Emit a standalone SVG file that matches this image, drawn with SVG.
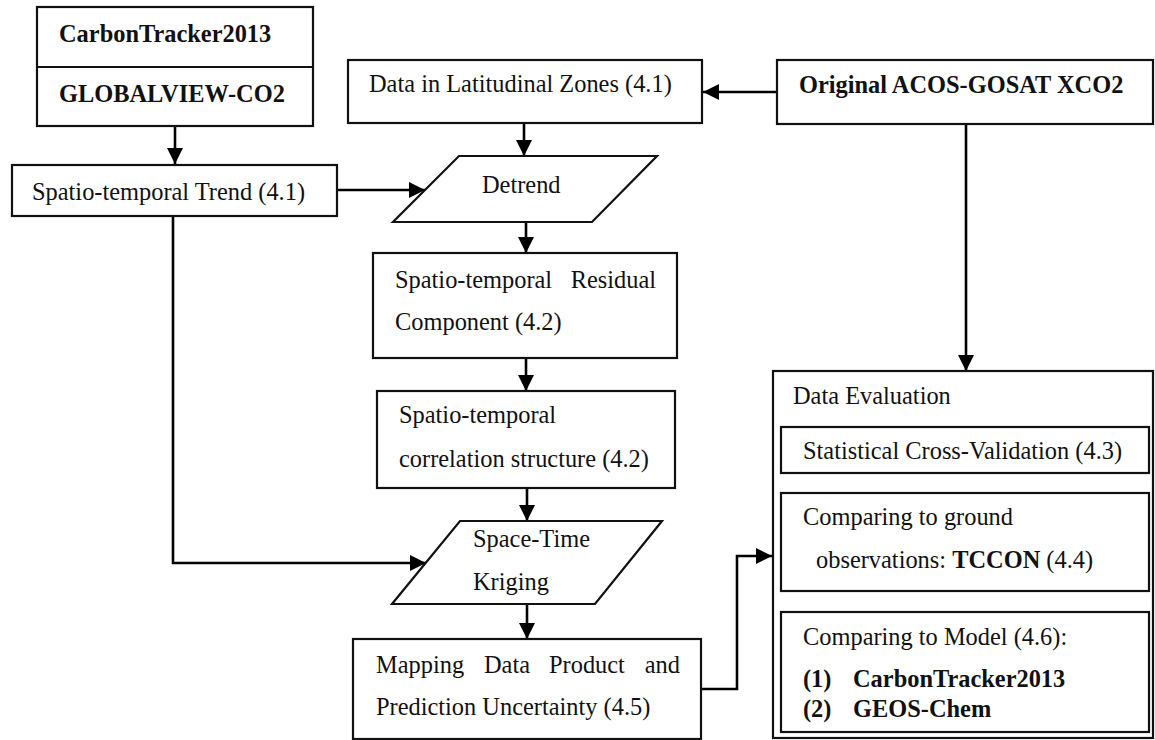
<svg xmlns="http://www.w3.org/2000/svg" width="1155" height="740" viewBox="0 0 1155 740">
<defs>
<marker id="ah" viewBox="0 0 16 16" refX="16" refY="8" markerWidth="16" markerHeight="16" markerUnits="userSpaceOnUse" orient="auto">
<path d="M0,0 L16,8 L0,16 Z" fill="#000"/>
</marker>
<style>
.b{fill:#fff;stroke:#111;stroke-width:2.2}
.t{font-family:"Liberation Serif","Times New Roman",serif;font-size:24.4px;fill:#111}
.bd{font-weight:bold}
.c{fill:none;stroke:#000;stroke-width:2.6}
</style>
</defs>
<rect width="1155" height="740" fill="#fff"/>
<g id="connectors">
<path class="c" d="M175,126 V164" marker-end="url(#ah)"/>
<path class="c" d="M337,190 H425" marker-end="url(#ah)"/>
<path class="c" d="M777,92 H703" marker-end="url(#ah)"/>
<path class="c" d="M524,123 V156" marker-end="url(#ah)"/>
<path class="c" d="M526,222 V253" marker-end="url(#ah)"/>
<path class="c" d="M526,358 V391" marker-end="url(#ah)"/>
<path class="c" d="M527,488 V521" marker-end="url(#ah)"/>
<path class="c" d="M527,604 V639" marker-end="url(#ah)"/>
<path class="c" d="M173,216 V563 H426" marker-end="url(#ah)"/>
<path class="c" d="M966,124 V371" marker-end="url(#ah)"/>
<path class="c" d="M701,689 H737 V556 H772" marker-end="url(#ah)"/>
</g>
<g id="n-sources">
<rect class="b" x="37" y="7" width="276" height="119"/>
<line x1="37" y1="67" x2="313" y2="67" stroke="#111" stroke-width="2.2"/>
<text class="t bd" x="59" y="42">CarbonTracker2013</text>
<text class="t bd" x="59" y="102">GLOBALVIEW-CO2</text>
</g>
<g id="n-trend">
<rect class="b" x="12" y="165" width="325" height="51"/>
<text class="t" x="32" y="200">Spatio-temporal Trend (4.1)</text>
</g>
<g id="n-lat">
<rect class="b" x="348" y="60" width="354" height="63"/>
<text class="t" x="369" y="92">Data in Latitudinal Zones (4.1)</text>
</g>
<g id="n-orig">
<rect class="b" x="777" y="60" width="376" height="64"/>
<text class="t bd" x="799" y="93">Original ACOS-GOSAT XCO2</text>
</g>
<g id="n-detrend">
<polygon class="b" points="459,156 657,156 592,222 393,222"/>
<text class="t" x="482" y="193">Detrend</text>
</g>
<g id="n-residual">
<rect class="b" x="373" y="253" width="304" height="105"/>
<text class="t" x="395" y="288">Spatio-temporal</text>
<text class="t" x="656" y="288" text-anchor="end">Residual</text>
<text class="t" x="395" y="330">Component (4.2)</text>
</g>
<g id="n-corr">
<rect class="b" x="377" y="391" width="298" height="97"/>
<text class="t" x="399" y="423">Spatio-temporal</text>
<text class="t" x="399" y="467">correlation structure (4.2)</text>
</g>
<g id="n-kriging">
<polygon class="b" points="460,521 662,521 595,604 392,604"/>
<text class="t" x="473" y="547">Space-Time</text>
<text class="t" x="473" y="590">Kriging</text>
</g>
<g id="n-mapping">
<rect class="b" x="353" y="639" width="348" height="100"/>
<text class="t" x="376" y="673">Mapping</text>
<text class="t" x="484" y="673">Data</text>
<text class="t" x="549" y="673">Product</text>
<text class="t" x="680" y="673" text-anchor="end">and</text>
<text class="t" x="376" y="715">Prediction Uncertainty (4.5)</text>
</g>
<g id="n-eval">
<rect class="b" x="773" y="371" width="380" height="367"/>
<text class="t" x="793" y="404">Data Evaluation</text>
</g>
<g id="n-cv">
<rect class="b" x="781" y="427" width="368" height="46"/>
<text class="t" x="803" y="459">Statistical Cross-Validation (4.3)</text>
</g>
<g id="n-tccon">
<rect class="b" x="781" y="493" width="368" height="98"/>
<text class="t" x="803" y="525">Comparing to ground</text>
<text class="t" x="816" y="568">observations: <tspan class="bd">TCCON</tspan> (4.4)</text>
</g>
<g id="n-model">
<rect class="b" x="781" y="612" width="368" height="120"/>
<text class="t" x="803" y="645">Comparing to Model (4.6):</text>
<text class="t bd" x="803" y="687">(1)</text>
<text class="t bd" x="853" y="687">CarbonTracker2013</text>
<text class="t bd" x="803" y="717">(2)</text>
<text class="t bd" x="853" y="717">GEOS-Chem</text>
</g>
</svg>
